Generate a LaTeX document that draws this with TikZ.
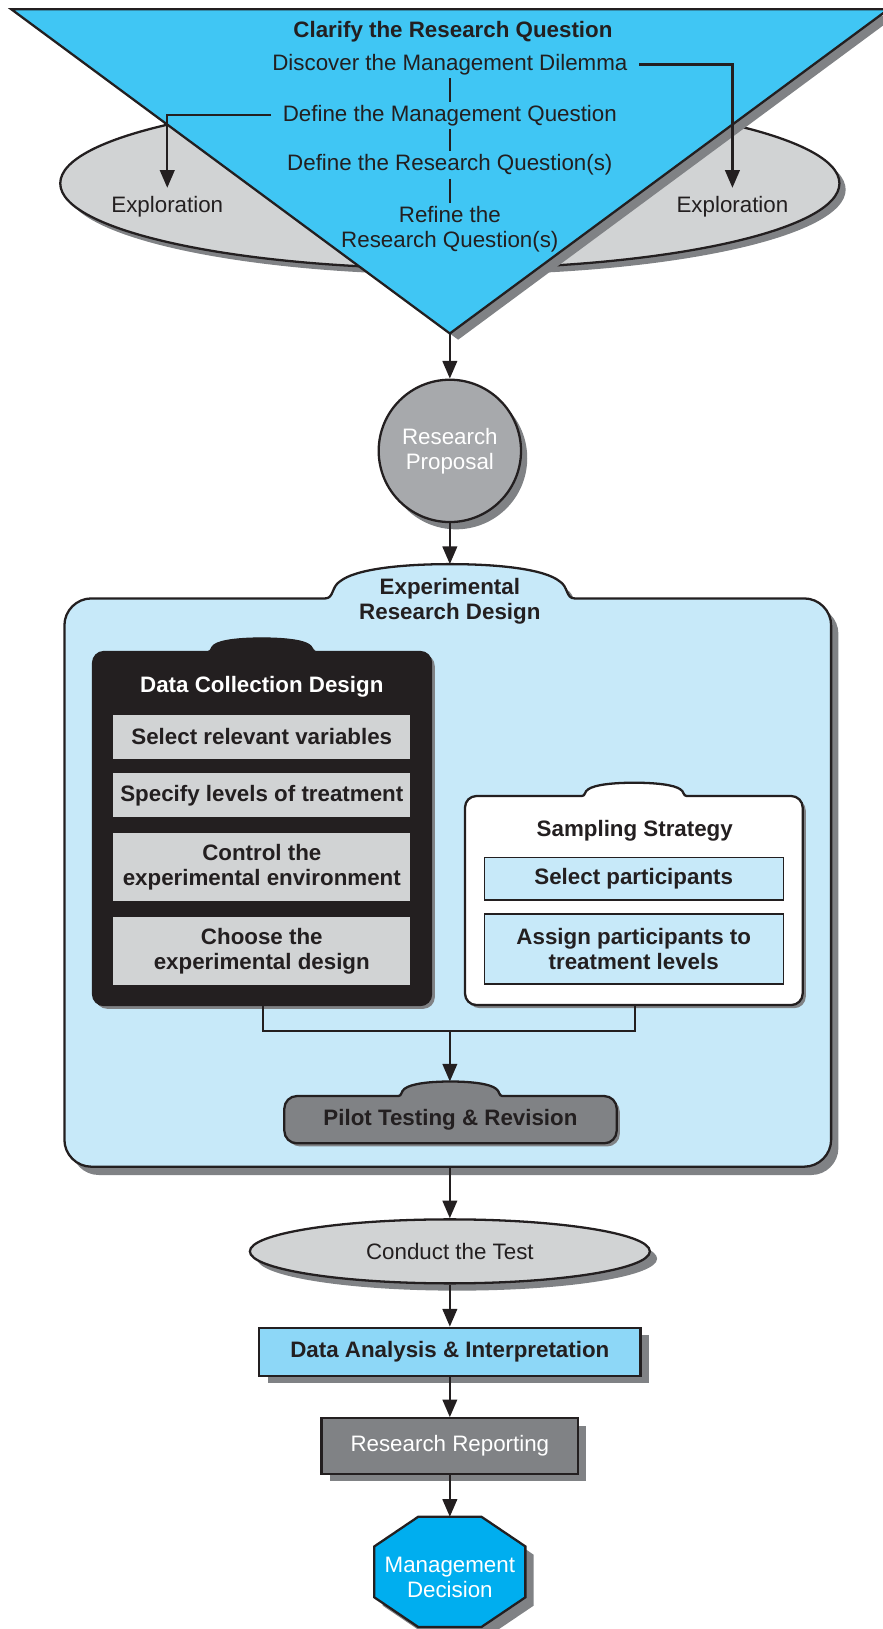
\documentclass[tikz,border=0pt]{standalone}
\usepackage{fontspec}
\setmainfont{Liberation Sans}
\usetikzlibrary{arrows.meta,shadows,shapes.geometric}
\definecolor{tri}{HTML}{40C6F4}
\definecolor{egray}{HTML}{D1D3D4}
\definecolor{shgray}{HTML}{808285}
\definecolor{cgray}{HTML}{A7A9AC}
\definecolor{lblue}{HTML}{C7E9F9}
\definecolor{ink}{HTML}{231F20}
\definecolor{dacyan}{HTML}{8DD7F7}
\definecolor{octc}{HTML}{00AEEF}
% #1 options, #2 xl, #3 yt, #4 xr, #5 yb, #6 R, #7 x1, #8 x2, #9 ytab
\newcommand{\tabbedbox}[9]{%
 \path[#1] ({#2},{#3+#6}) .. controls ({#2},{#3+0.45*#6}) and ({#2+0.45*#6},{#3}) .. ({#2+#6},{#3})
  -- ({#7},{#3})
  .. controls ({#7+0.035*(#8-#7)},{#3}) and ({#7+0.025*(#8-#7)},{#3-0.35*(#3-#9)}) .. ({#7+0.06*(#8-#7)},{#3-0.5*(#3-#9)})
  .. controls ({#7+0.12*(#8-#7)},{#3-0.85*(#3-#9)}) and ({#7+0.3*(#8-#7)},{#9}) .. ({0.5*(#7+#8)},{#9})
  .. controls ({#8-0.3*(#8-#7)},{#9}) and ({#8-0.12*(#8-#7)},{#3-0.85*(#3-#9)}) .. ({#8-0.06*(#8-#7)},{#3-0.5*(#3-#9)})
  .. controls ({#8-0.025*(#8-#7)},{#3-0.35*(#3-#9)}) and ({#8-0.035*(#8-#7)},{#3}) .. ({#8},{#3})
  -- ({#4-#6},{#3})
  .. controls ({#4-0.45*#6},{#3}) and ({#4},{#3+0.45*#6}) .. ({#4},{#3+#6})
  -- ({#4},{#5-#6})
  .. controls ({#4},{#5-0.45*#6}) and ({#4-0.45*#6},{#5}) .. ({#4-#6},{#5})
  -- ({#2+#6},{#5})
  .. controls ({#2+0.45*#6},{#5}) and ({#2},{#5-0.45*#6}) .. ({#2},{#5-#6})
  -- cycle;%
}
\begin{document}
\begin{tikzpicture}[x=1pt,y=-1pt,
  font=\fontsize{21.5}{24}\selectfont,
  every node/.style={text=ink},
  txt/.style={inner sep=3pt, align=center},
  bf/.style={font=\fontsize{21.5}{24}\selectfont\bfseries},
  conn/.style={draw=ink, line width=2.2pt},
  arr/.style={conn, -{Triangle[length=17pt,width=14pt]}},
  shd/.style 2 args={drop shadow={shadow xshift=#1pt,shadow yshift=-#2pt,opacity=1,fill=shgray}},
  gbox/.style={fill=egray, minimum width=286pt, inner sep=2pt, align=center, bf},
  bbox/.style={fill=lblue, draw=ink, line width=1.2pt, minimum width=288pt, inner sep=2pt, align=center, bf}]
\useasboundingbox (0,0) rectangle (849,1568);

% exploration ellipse
\fill[shgray] (439,182.5) ellipse [x radius=375, y radius=82];
\filldraw[fill=egray, draw=ink, line width=2.2pt] (433,176.5) ellipse [x radius=375, y radius=82];

% funnel triangle
\fill[shgray] (19,15) -- (863,15) -- (441,327) -- cycle;
\filldraw[fill=tri, draw=ink, line width=2.2pt] (11,9) -- (855,9) -- (433,321) -- cycle;
\coordinate (tip) at (433,321);

\node[txt, bf] (clarify) at (436,31) {Clarify the Research Question};
\node[txt] (discover) at (433,62) {Discover the Management Dilemma};
\node[txt] (defmq) at (433,111) {Define the Management Question};
\node[txt] (defrq) at (433,159) {Define the Research Question(s)};
\node[txt] (refine) at (433,221) {Refine the\\Research Question(s)};
\node[txt] (explL) at (161,199) {Exploration};
\node[txt] (explR) at (705,199) {Exploration};

\draw[conn] (discover.south) -- (defmq.north);
\draw[conn] (defmq.south) -- (defrq.north);
\draw[conn] (defrq.south) -- (refine.north);
\draw[arr] ([xshift=8pt]discover.east) -| ([yshift=5pt]explR.north);
\draw[arr] ([xshift=-8pt]defmq.west) -| ([yshift=5pt]explL.north);

% research proposal
\node[circle, draw=ink, line width=2.2pt, fill=cgray, minimum size=137pt, inner sep=0pt,
      text=white, align=center, shd={6}{7}] (prop) at (433,434) {Research\\Proposal};
\draw[arr] (tip) -- (prop.north);

% experimental research design
\tabbedbox{fill=shgray, shift={(7,8)}}{62}{576}{800}{1123}{26}{313}{553}{543}
\tabbedbox{fill=lblue, draw=ink, line width=2.2pt}{62}{576}{800}{1123}{26}{313}{553}{543}
\coordinate (erdtop) at (433,543);
\coordinate (erdbot) at (433,1123);
\node[txt, bf] (erd) at (433,579) {Experimental\\Research Design};
\draw[arr] (prop.south) -- (erdtop);

% data collection design
\tabbedbox{fill=shgray, shift={(3,3)}}{89}{627}{415.5}{968}{11}{200}{304}{614}
\tabbedbox{fill=ink, draw=ink, line width=1pt}{89}{627}{415.5}{968}{11}{200}{304}{614}
\node[txt, bf, text=white] (dcd) at (252,661) {Data Collection Design};
\node[gbox, minimum height=42pt] (sv) at (252,709.3) {Select relevant variables};
\node[gbox, minimum height=42pt] (sl) at (252,765.5) {Specify levels of treatment};
\node[gbox, minimum height=65pt] (ce) at (252,834.5) {Control the\\experimental environment};
\node[gbox, minimum height=65.6pt] (cd) at (252,915.2) {Choose the\\experimental design};
\coordinate (dcdbot) at (253,968);

% sampling strategy
\tabbedbox{fill=shgray, shift={(3,3)}}{447.6}{766.2}{772.6}{967.4}{11}{560}{661}{753.4}
\tabbedbox{fill=white, draw=ink, line width=2.2pt}{447.6}{766.2}{772.6}{967.4}{11}{560}{661}{753.4}
\node[txt, bf] (ss) at (611,800) {Sampling Strategy};
\node[bbox, minimum height=41pt] (sp) at (610,845.7) {Select participants};
\node[bbox, minimum height=67.4pt] (ap) at (610,913.5) {Assign participants to\\treatment levels};
\coordinate (ssbot) at (611,967.4);

% join to pilot testing
\coordinate (join) at (433,992.4);
\draw[conn] (dcdbot) |- (join) -| (ssbot);
\coordinate (pilottop) at (433,1041);
\draw[arr] (join) -- (pilottop);

\tabbedbox{fill=shgray, shift={(3,3)}}{273.7}{1055}{593.6}{1100.5}{12}{383.4}{483.5}{1041}
\tabbedbox{fill=shgray, draw=ink, line width=2.2pt}{273.7}{1055}{593.6}{1100.5}{12}{383.4}{483.5}{1041}
\node[txt, bf] (pilot) at (433.6,1077.4) {Pilot Testing \& Revision};

% lower chain
\node[ellipse, draw=ink, line width=2.2pt, fill=egray, minimum width=385pt, minimum height=61.6pt,
      inner sep=0pt, shd={7}{7}] (ct) at (433,1204.5) {Conduct the Test};
\node[draw=ink, line width=2.2pt, fill=dacyan, minimum width=367pt, minimum height=46.5pt,
      shd={8}{7}, bf] (da) at (433,1301.3) {Data Analysis \& Interpretation};
\node[draw=ink, line width=2.2pt, fill=shgray, minimum width=247pt, minimum height=53.6pt,
      shd={8}{7}, text=white] (rr) at (433,1392) {Research Reporting};

\fill[shgray, shift={(8,8)}] (402.5,1460) -- (463.5,1460) -- (505.7,1488.5) -- (505.7,1537.5)
  -- (463.5,1566) -- (402.5,1566) -- (360.3,1537.5) -- (360.3,1488.5) -- cycle;
\filldraw[fill=octc, draw=ink, line width=2.2pt] (402.5,1460) -- (463.5,1460) -- (505.7,1488.5) -- (505.7,1537.5)
  -- (463.5,1566) -- (402.5,1566) -- (360.3,1537.5) -- (360.3,1488.5) -- cycle;
\coordinate (mdtop) at (433,1460);
\node[txt, text=white] (md) at (433,1518) {Management\\Decision};

\draw[arr] (erdbot) -- (ct.north);
\draw[arr] (ct.south) -- (da.north);
\draw[arr] (da.south) -- (rr.north);
\draw[arr] (rr.south) -- (mdtop);
\end{tikzpicture}
\end{document}
